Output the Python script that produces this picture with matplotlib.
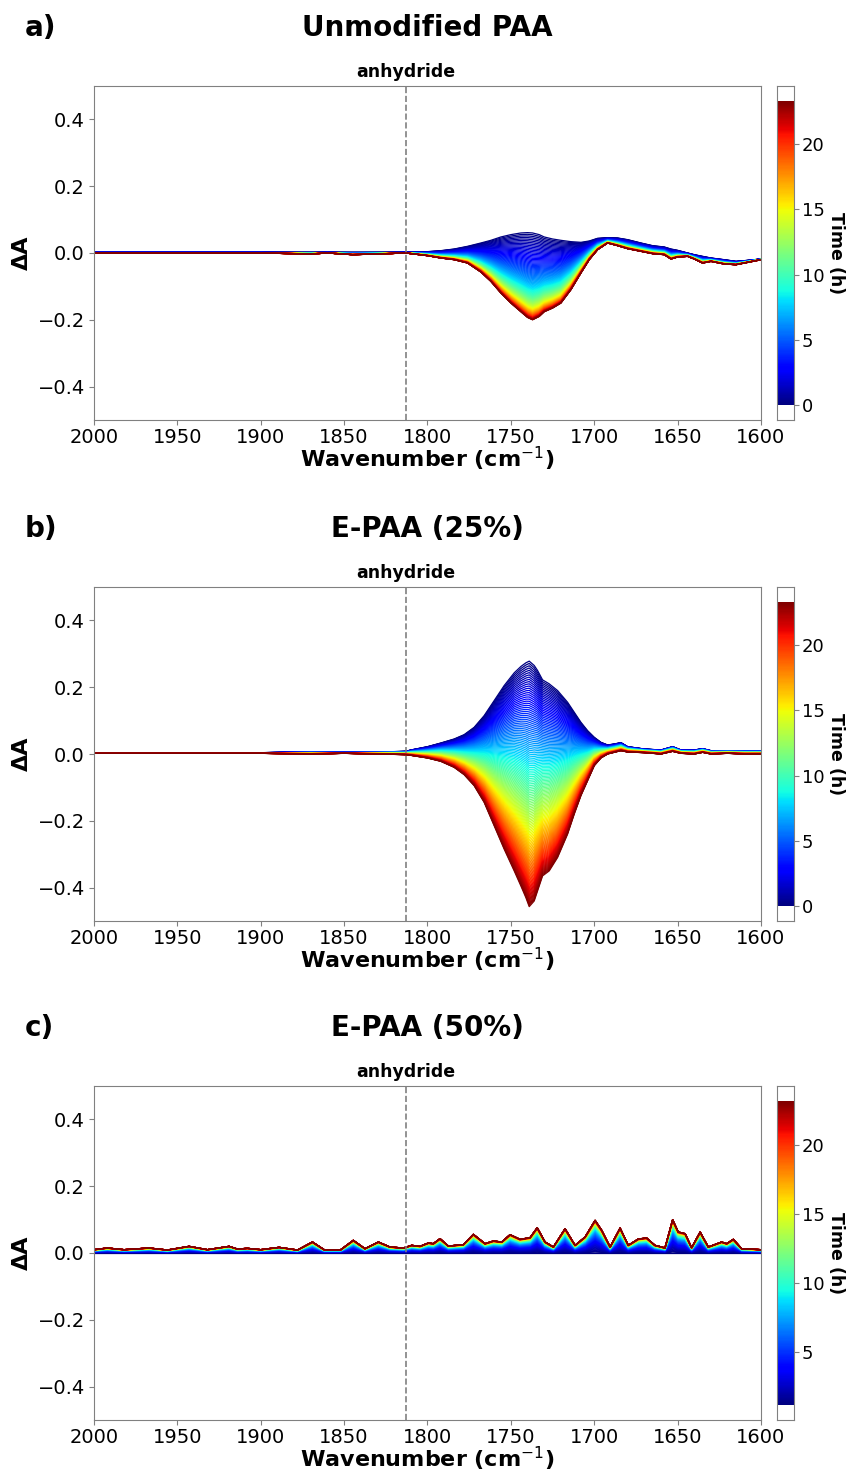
import numpy as np
import matplotlib.pyplot as plt
from matplotlib import cm, colors

# ---------------------------------------------------------------------------
# Data: difference spectra at first and last time point
# ---------------------------------------------------------------------------

# a) Unmodified PAA
wn_a = [2000, 1950, 1900, 1870, 1860, 1845, 1830, 1813, 1800, 1792, 1784,
        1776, 1768, 1762, 1756, 1750, 1744, 1740, 1737, 1733, 1730, 1725,
        1720, 1714, 1708, 1703, 1698, 1692, 1686, 1680, 1672, 1665, 1658,
        1654, 1650, 1644, 1640, 1635, 1630, 1622, 1615, 1608, 1600]
dA_a_first = [0.002, 0.002, 0.002, 0.002, 0.002, 0.002, 0.002, 0.002, 0.004,
              0.007, 0.012, 0.020, 0.030, 0.038, 0.048, 0.055, 0.060, 0.061,
              0.060, 0.055, 0.048, 0.042, 0.038, 0.034, 0.032, 0.036, 0.044,
              0.046, 0.045, 0.040, 0.030, 0.022, 0.018, 0.012, 0.008, 0.000,
              -0.005, -0.010, -0.015, -0.020, -0.025, -0.022, -0.018]
dA_a_last = [0.000, 0.000, 0.000, -0.003, 0.000, -0.005, -0.003, 0.000, -0.008,
             -0.015, -0.020, -0.030, -0.057, -0.085, -0.120, -0.150, -0.176,
             -0.193, -0.200, -0.190, -0.176, -0.165, -0.150, -0.110, -0.060,
             -0.020, 0.010, 0.030, 0.022, 0.013, 0.005, -0.002, -0.005,
             -0.018, -0.012, -0.010, -0.018, -0.030, -0.025, -0.033, -0.035,
             -0.028, -0.020]

# b) E-PAA (25%)
wn_b = [2000, 1950, 1900, 1870, 1850, 1830, 1813, 1810, 1800, 1792, 1784,
        1778, 1772, 1766, 1760, 1754, 1748, 1744, 1741, 1739, 1736, 1734,
        1731, 1727, 1722, 1716, 1712, 1708, 1704, 1700, 1696, 1692, 1688,
        1684, 1680, 1670, 1660, 1653, 1648, 1640, 1635, 1630, 1620, 1610,
        1600]
dA_b_first = [0.004, 0.004, 0.004, 0.006, 0.005, 0.006, 0.008, 0.012, 0.022,
              0.033, 0.045, 0.058, 0.080, 0.115, 0.160, 0.205, 0.243, 0.262,
              0.273, 0.278, 0.265, 0.250, 0.222, 0.210, 0.190, 0.155, 0.125,
              0.095, 0.070, 0.050, 0.035, 0.027, 0.030, 0.034, 0.022, 0.015,
              0.012, 0.022, 0.012, 0.012, 0.016, 0.010, 0.010, 0.010, 0.010]
dA_b_last = [0.002, 0.002, 0.002, 0.000, 0.002, 0.000, -0.002, -0.004, -0.012,
             -0.022, -0.040, -0.062, -0.095, -0.145, -0.215, -0.285, -0.350,
             -0.395, -0.430, -0.457, -0.440, -0.410, -0.365, -0.350, -0.310,
             -0.240, -0.180, -0.125, -0.080, -0.035, -0.012, 0.000, 0.005,
             0.010, 0.006, 0.004, 0.000, 0.008, 0.002, 0.000, 0.005, 0.000,
             0.002, 0.000, 0.000]

# c) E-PAA (50%)
wn_c = [2000, 1992, 1982, 1967, 1956, 1943, 1932, 1919, 1914, 1908, 1900,
        1889, 1878, 1869, 1862, 1852, 1844.5, 1837.5, 1829.5, 1822.5, 1814.5,
        1809.5, 1804.5, 1799.5, 1796.5, 1792.5, 1787.5, 1778.5, 1772.5,
        1765.5, 1760.5, 1755.5, 1750.5, 1744.5, 1738.5, 1734.2, 1729.5,
        1724.5, 1717.5, 1711.5, 1705.5, 1699.5, 1695.5, 1690.5, 1684.5,
        1679.6, 1673.6, 1668.6, 1663.6, 1659.6, 1657.6, 1653, 1649.6, 1645.5,
        1641.6, 1636.5, 1631.6, 1623.6, 1620.6, 1616.6, 1611.6, 1600]
dA_c_last = [0.010, 0.015, 0.010, 0.015, 0.009, 0.020, 0.010, 0.020, 0.012,
             0.014, 0.010, 0.017, 0.009, 0.033, 0.010, 0.010, 0.038, 0.013,
             0.033, 0.018, 0.015, 0.023, 0.020, 0.030, 0.028, 0.043, 0.021,
             0.025, 0.056, 0.028, 0.036, 0.033, 0.055, 0.041, 0.046, 0.076,
             0.033, 0.018, 0.073, 0.023, 0.048, 0.098, 0.068, 0.018, 0.075,
             0.023, 0.042, 0.045, 0.023, 0.018, 0.015, 0.100, 0.063, 0.058,
             0.016, 0.063, 0.018, 0.033, 0.028, 0.041, 0.013, 0.010]
dA_c_first = [0.0] * len(wn_c)

# time window (h) and apparent time constant of the change (h) for each run
t_range = {"a": (0.0, 23.3), "b": (0.0, 23.3), "c": (1.2, 23.2)}
tau = {"a": 9.0, "b": 40.0, "c": 6.0}
n_spectra = 141

anhydride_wn = 1813

titles = {"a": "Unmodified PAA", "b": "E-PAA (25%)", "c": "E-PAA (50%)"}
cbar_ticks = {"a": [0, 5, 10, 15, 20], "b": [0, 5, 10, 15, 20],
              "c": [5, 10, 15, 20]}


# ---------------------------------------------------------------------------
# Plotting
# ---------------------------------------------------------------------------

def draw_panel(fig, key, wn, first, last, ax_box, cb_box):
    t0, t1 = t_range[key]
    times = np.linspace(t0, t1, n_spectra)
    progress = (1 - np.exp(-(times - t0) / tau[key])) / (1 - np.exp(-(t1 - t0) / tau[key]))
    first = np.asarray(first)
    last = np.asarray(last)

    cmap = plt.get_cmap("jet")
    norm = colors.Normalize(t0, t1)

    ax = fig.add_axes(ax_box)
    for t, p in zip(times, progress):
        ax.plot(wn, first + (last - first) * p, color=cmap(norm(t)), lw=0.9)

    ax.axvline(anhydride_wn, color="gray", ls="--", lw=1.2)
    ax.text(anhydride_wn, 0.515, "anhydride", ha="center", va="bottom",
            fontsize=12.5, fontweight="bold")
    ax.set_xlim(2000, 1600)
    ax.set_ylim(-0.5, 0.5)
    ax.set_xticks(np.arange(2000, 1599, -50))
    ax.set_yticks([-0.4, -0.2, 0.0, 0.2, 0.4])
    ax.tick_params(labelsize=14, color="gray", pad=3)
    ax.tick_params(axis="x", pad=2)
    for sp in ax.spines.values():
        sp.set_color("gray")
    ax.set_xlabel("Wavenumber (cm$^{-1}$)", fontsize=16, fontweight="bold",
                  labelpad=-1)
    ax.set_ylabel("ΔA", fontsize=16, fontweight="bold", labelpad=4)

    # panel letter and title
    top = ax_box[1] + ax_box[3]
    fig.text(25 / 852, top + 58 / 1475, f"{key})", fontsize=20,
             fontweight="bold", ha="left", va="center")
    fig.text(ax_box[0] + ax_box[2] / 2, top + 58 / 1475, titles[key],
             fontsize=20, fontweight="bold", ha="center", va="center")

    # colorbar with a little blank room at both ends
    cax = fig.add_axes(cb_box)
    sm = cm.ScalarMappable(norm=norm, cmap=cmap)
    cb = fig.colorbar(sm, cax=cax, ticks=cbar_ticks[key])
    pad = 0.05 * (t1 - t0)
    cax.set_ylim(t0 - pad, t1 + pad)
    cb.outline.set_visible(False)
    for side in ["left", "right", "top", "bottom"]:
        cax.spines[side].set_visible(True)
        cax.spines[side].set_color("gray")
    cax.tick_params(labelsize=13, color="gray", pad=2)
    cb.set_label("Time (h)", rotation=270, labelpad=15, fontsize=12.5,
                 fontweight="bold")
    return ax


fig = plt.figure(figsize=(8.52, 14.75), dpi=100)

ax_left, ax_w = 94 / 852, 667 / 852
ax_h = 334 / 1475
cb_left, cb_w = 777 / 852, 17 / 852
bottoms = {"a": 1 - 420 / 1475, "b": 1 - 921 / 1475, "c": 1 - 1420 / 1475}

draw_panel(fig, "a", wn_a, dA_a_first, dA_a_last,
           [ax_left, bottoms["a"], ax_w, ax_h], [cb_left, bottoms["a"], cb_w, ax_h])
draw_panel(fig, "b", wn_b, dA_b_first, dA_b_last,
           [ax_left, bottoms["b"], ax_w, ax_h], [cb_left, bottoms["b"], cb_w, ax_h])
draw_panel(fig, "c", wn_c, dA_c_first, dA_c_last,
           [ax_left, bottoms["c"], ax_w, ax_h], [cb_left, bottoms["c"], cb_w, ax_h])

fig.savefig("out.png", dpi=100)
